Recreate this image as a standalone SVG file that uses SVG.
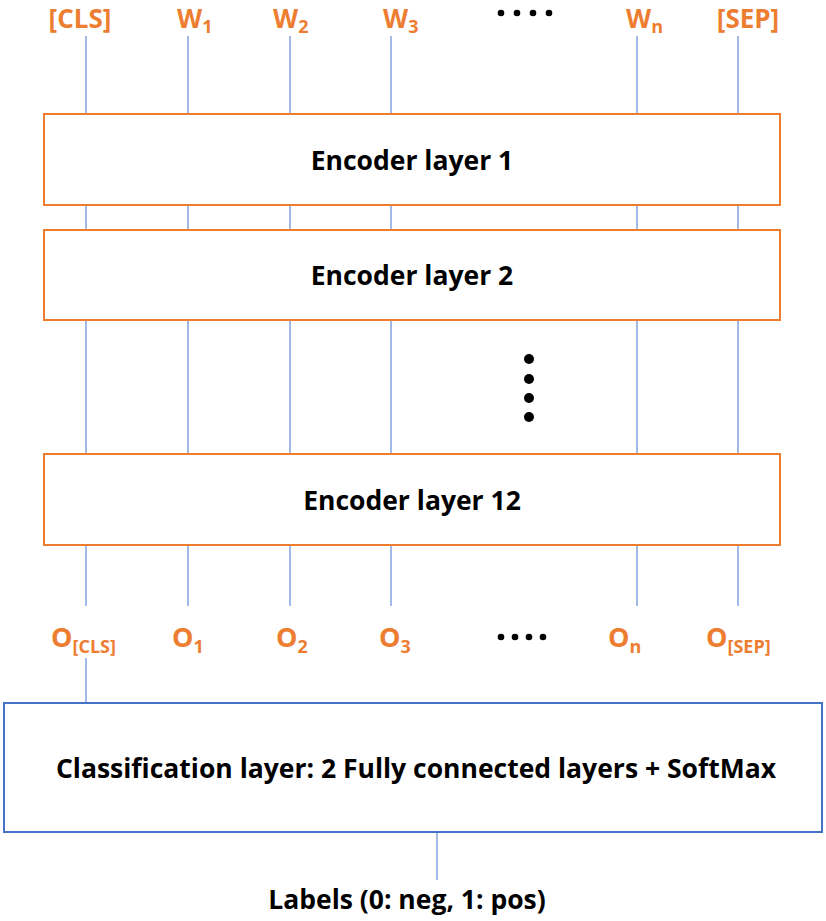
<svg xmlns="http://www.w3.org/2000/svg" width="826" height="921" viewBox="0 0 826 921">
<style>
.lbl{font-family:"Open Sans","Liberation Sans",sans-serif;font-weight:700;fill:#ED7D31;font-size:27px}
.top{font-size:26px}
.sub{font-size:18px}
.txt{font-family:"Open Sans","Liberation Sans",sans-serif;font-weight:700;fill:#000;font-size:26.5px;text-anchor:middle}
.enc{fill:#fff;stroke:#ED7D31;stroke-width:2}
.cls{fill:#fff;stroke:#4472C4;stroke-width:2}
.con line{stroke:#6F94D8;stroke-width:1.3}
</style>
<rect width="826" height="921" fill="#fff"/>
<g id="connectors" class="con">
<line x1="86" y1="36" x2="86" y2="114"/><line x1="188" y1="36" x2="188" y2="114"/><line x1="290" y1="36" x2="290" y2="114"/><line x1="391" y1="36" x2="391" y2="114"/><line x1="637" y1="36" x2="637" y2="114"/><line x1="738" y1="36" x2="738" y2="114"/>
<line x1="86" y1="205" x2="86" y2="230"/><line x1="188" y1="205" x2="188" y2="230"/><line x1="290" y1="205" x2="290" y2="230"/><line x1="391" y1="205" x2="391" y2="230"/><line x1="637" y1="205" x2="637" y2="230"/><line x1="738" y1="205" x2="738" y2="230"/>
<line x1="86" y1="320" x2="86" y2="454"/><line x1="188" y1="320" x2="188" y2="454"/><line x1="290" y1="320" x2="290" y2="454"/><line x1="391" y1="320" x2="391" y2="454"/><line x1="637" y1="320" x2="637" y2="454"/><line x1="738" y1="320" x2="738" y2="454"/>
<line x1="86" y1="545" x2="86" y2="606"/><line x1="188" y1="545" x2="188" y2="606"/><line x1="290" y1="545" x2="290" y2="606"/><line x1="391" y1="545" x2="391" y2="606"/><line x1="637" y1="545" x2="637" y2="606"/><line x1="738" y1="545" x2="738" y2="606"/>
<line x1="86" y1="658" x2="86" y2="703"/>
<line x1="437" y1="832" x2="437" y2="880"/>
</g>
<g id="inputs">
<text class="lbl top" x="80" y="28" text-anchor="middle">[CLS]</text>
<text class="lbl top" x="177" y="28">W<tspan class="sub" dy="5">1</tspan></text>
<text class="lbl top" x="273" y="28">W<tspan class="sub" dy="5">2</tspan></text>
<text class="lbl top" x="383" y="28">W<tspan class="sub" dy="5">3</tspan></text>
<text class="lbl top" x="626" y="28">W<tspan class="sub" dy="5">n</tspan></text>
<text class="lbl top" x="748" y="28" text-anchor="middle">[SEP]</text>
<g fill="#000"><circle cx="501" cy="13" r="3.3"/><circle cx="517" cy="13" r="3.3"/><circle cx="533" cy="13" r="3.3"/><circle cx="549" cy="13" r="3.3"/></g>
</g>
<g id="enc1"><rect class="enc" x="44" y="114" width="736" height="91"/><text class="txt" x="412" y="170">Encoder layer 1</text></g>
<g id="enc2"><rect class="enc" x="44" y="230" width="736" height="90"/><text class="txt" x="412" y="285">Encoder layer 2</text></g>
<g id="vdots" fill="#000"><circle cx="529" cy="359" r="5"/><circle cx="529" cy="379" r="5"/><circle cx="529" cy="398" r="5"/><circle cx="529" cy="417" r="5"/></g>
<g id="enc12"><rect class="enc" x="44" y="454" width="736" height="91"/><text class="txt" x="412" y="510">Encoder layer 12</text></g>
<g id="outputs">
<text class="lbl" x="51" y="647">O<tspan class="sub" dy="6">[CLS]</tspan></text>
<text class="lbl" x="172" y="647">O<tspan class="sub" dy="6">1</tspan></text>
<text class="lbl" x="276" y="647">O<tspan class="sub" dy="6">2</tspan></text>
<text class="lbl" x="379" y="647">O<tspan class="sub" dy="6">3</tspan></text>
<text class="lbl" x="608" y="647">O<tspan class="sub" dy="6">n</tspan></text>
<text class="lbl" x="706" y="647">O<tspan class="sub" dy="6">[SEP]</tspan></text>
<g fill="#000"><circle cx="501" cy="637" r="3.3"/><circle cx="515" cy="637" r="3.3"/><circle cx="529" cy="637" r="3.3"/><circle cx="543" cy="637" r="3.3"/></g>
</g>
<g id="classifier"><rect class="cls" x="4" y="703" width="818" height="129"/><text class="txt" x="416" y="778">Classification layer: 2 Fully connected layers + SoftMax</text></g>
<g id="labels"><text class="txt" x="407" y="909">Labels (0: neg, 1: pos)</text></g>
</svg>
